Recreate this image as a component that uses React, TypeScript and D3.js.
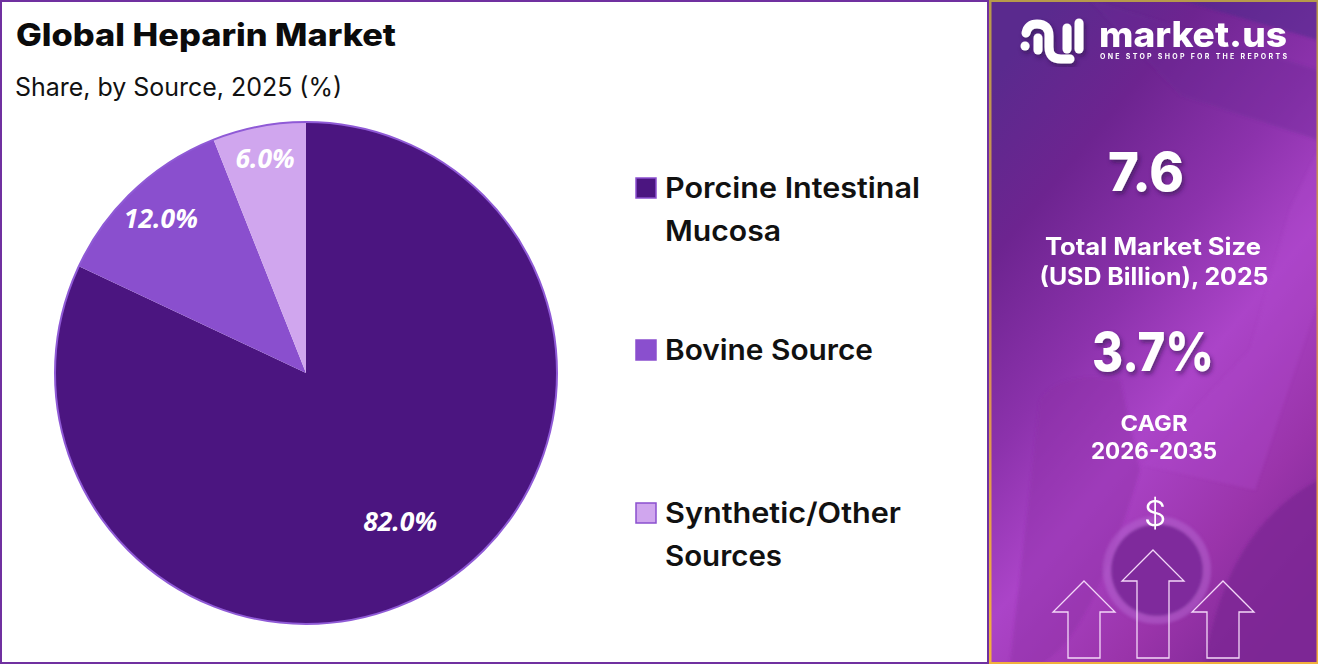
import * as d3 from 'd3';

const title = 'Global Heparin Market';
const subtitle = 'Share, by Source, 2025 (%)';

const sources = ['Porcine Intestinal Mucosa', 'Bovine Source', 'Synthetic/Other Sources'];
const shares = [82, 12, 6];
const sliceColors = ['#4b1580', '#8a4fce', '#d0a6ee'];
const labelRadius = [0.7, 0.845, 0.87];
const legendLines = [['Porcine Intestinal', 'Mucosa'], ['Bovine Source'], ['Synthetic/Other', 'Sources']];
const legendWidths = [[255, 116], [208], [236, 117]];
const legendY = [188, 350, 513];

const labelFont = '"Open Sans", sans-serif';
const headFont = 'Inter, sans-serif';

const arrows = [
  { x: 1084, top: 581, half: 31 },
  { x: 1153, top: 550, half: 31 },
  { x: 1223, top: 581, half: 31 },
];

const App = () => {
  const cx = 306;
  const cy = 373;
  const radius = 251;
  const pie = d3.pie<number>().value(d => d).sort(null);
  const arcs = pie(shares);
  const arc = d3.arc<d3.PieArcDatum<number>>().innerRadius(0).outerRadius(radius);
  const labelPos = (d: d3.PieArcDatum<number>, i: number) =>
    d3.arc<d3.PieArcDatum<number>>()
      .innerRadius(radius * labelRadius[i])
      .outerRadius(radius * labelRadius[i])
      .centroid(d);

  return (
    <svg width={1318} height={664} style={{ position: 'absolute', left: 0, top: 0, display: 'block' }}>
      <defs>
        <linearGradient id="panel" x1="0.2" y1="0" x2="0.8" y2="1">
          <stop offset="0" stopColor="#5a2a8e" />
          <stop offset="0.2" stopColor="#6d2490" />
          <stop offset="0.42" stopColor="#8c32ac" />
          <stop offset="0.6" stopColor="#ab44c8" />
          <stop offset="0.82" stopColor="#9a34aa" />
          <stop offset="1" stopColor="#7f2896" />
        </linearGradient>
        <linearGradient id="edge" x1="0" y1="0" x2="0" y2="1">
          <stop offset="0" stopColor="#b79a4a" />
          <stop offset="0.5" stopColor="#d58a5a" />
          <stop offset="1" stopColor="#f2b13c" />
        </linearGradient>
        <filter id="shadow" x="-20%" y="-20%" width="140%" height="140%">
          <feDropShadow dx="2" dy="3" stdDeviation="2" floodColor="#2a0a44" floodOpacity="0.55" />
        </filter>
        <filter id="blur"><feGaussianBlur stdDeviation="1.5" /></filter>
      </defs>

      <rect x={0} y={0} width={1318} height={664} fill="#fff" />
      <rect x={1} y={1} width={987} height={662} fill="none" stroke="#7030a0" strokeWidth={2} />

      <text x={16} y={46} fontFamily={headFont} fontWeight={800} fontSize={31} fill="#0b0b0b" textLength={380} lengthAdjust="spacingAndGlyphs">{title}</text>
      <text x={15} y={96} fontFamily={headFont} fontWeight={400} fontSize={25} fill="#111" textLength={327} lengthAdjust="spacingAndGlyphs">{subtitle}</text>

      <g transform={`translate(${cx},${cy})`}>
        {arcs.map((d, i) => (
          <path key={sources[i]} d={arc(d) ?? ''} fill={sliceColors[i]} />
        ))}
        <circle r={radius} fill="none" stroke="#8f5ad6" strokeWidth={2} />
        {arcs.map((d, i) => {
          const [x, y] = labelPos(d, i);
          return (
            <text key={sources[i]} x={x} y={y} dy="0.35em" textAnchor="middle" fontFamily={labelFont} fontStyle="italic" fontWeight={700} fontSize={26.5} fill="#fff">
              {`${d.data.toFixed(1)}%`}
            </text>
          );
        })}
      </g>

      {sources.map((s, i) => (
        <g key={s}>
          <rect x={636} y={legendY[i] - 10} width={20} height={20} fill={sliceColors[i]} stroke="#8a4fce" strokeWidth={1.5} />
          {legendLines[i].map((line, j) => (
            <text key={line} x={665} y={legendY[i] + 10 + j * 43} fontFamily={headFont} fontWeight={600} fontSize={28} fill="#111" textLength={legendWidths[i][j]} lengthAdjust="spacingAndGlyphs">{line}</text>
          ))}
        </g>
      ))}

      {/* right panel */}
      <rect x={990} y={0} width={328} height={664} fill="url(#panel)" />
      <g filter="url(#blur)">
        <path d="M1090 0 L1318 70 V140 L1180 95 Z" fill="#6a2a96" opacity={0.35} />
        <path d="M1180 0 L1318 40 V0 Z" fill="#4a2a8c" opacity={0.5} />
        <path d="M1290 210 L1318 150 V300 L1255 490 L1143 465 L1250 350 Z" fill="#b048cc" opacity={0.3} />
        <path d="M1040 400 Q1060 370 1120 380 L1140 470 Q1090 640 1040 664 L1010 664 Z" fill="#8d2ca6" opacity={0.4} />
        <circle cx={1157} cy={570} r={54} fill="#b565d2" opacity={0.5} />
        <circle cx={1157} cy={570} r={46} fill="#7f2c9c" />
        <path d="M1205 664 Q1225 530 1318 480 V664 Z" fill="#7d2795" opacity={0.8} />
      </g>
      <rect x={989} y={0} width={2.5} height={664} fill="url(#edge)" />
      <rect x={990} y={0} width={328} height={2} fill="#b79a4a" />
      <rect x={990} y={662} width={328} height={2} fill="#f2b13c" />
      <rect x={1316.5} y={0} width={1.5} height={664} fill="url(#edge)" />

      {/* logo */}
      <g fill="none" stroke="#fff" strokeWidth={9} strokeLinecap="round" filter="url(#shadow)">
        <path d="M1025 46 L1025.1 46" />
        <path d="M1026 33 Q1028 24 1037 24 Q1049 24 1049 36 V47 Q1049 59 1061 59 H1070" />
        <path d="M1038 38 V50" />
        <path d="M1067 28 V49" />
        <path d="M1079 23 V49" />
      </g>
      <text x={1099} y={47} fontFamily={headFont} fontWeight={800} fontSize={35} fill="#fff" textLength={188} lengthAdjust="spacingAndGlyphs">market.us</text>
      <text x={1100} y={59} fontFamily={headFont} fontWeight={700} fontSize={7} fill="#fff" textLength={187} lengthAdjust="spacing">ONE STOP SHOP FOR THE REPORTS</text>

      <g textAnchor="middle" fill="#fff" fontFamily={headFont}>
        <text x={1146} y={191} fontWeight={800} fontSize={54} textLength={76} lengthAdjust="spacingAndGlyphs" filter="url(#shadow)">7.6</text>
        <text x={1153} y={255} fontWeight={700} fontSize={24} textLength={216} lengthAdjust="spacingAndGlyphs">Total Market Size</text>
        <text x={1154} y={285} fontWeight={700} fontSize={24} textLength={229} lengthAdjust="spacingAndGlyphs">(USD Billion), 2025</text>
        <text x={1153} y={371} fontWeight={800} fontSize={54} textLength={122} lengthAdjust="spacingAndGlyphs" filter="url(#shadow)">3.7%</text>
        <text x={1154} y={431} fontWeight={700} fontSize={22} textLength={67} lengthAdjust="spacingAndGlyphs">CAGR</text>
        <text x={1154} y={459} fontWeight={700} fontSize={23} textLength={126} lengthAdjust="spacingAndGlyphs">2026-2035</text>
        <text x={1155} y={526} fontWeight={300} fontSize={36}>$</text>
      </g>

      {arrows.map(a => (
        <path
          key={a.x}
          d={`M${a.x} ${a.top} L${a.x + a.half} ${a.top + 31} H${a.x + 16} V658 H${a.x - 16} V${a.top + 31} H${a.x - a.half} Z`}
          fill="none"
          stroke="#f3d8f8"
          strokeWidth={1.3}
        />
      ))}
    </svg>
  );
};

export default App;
